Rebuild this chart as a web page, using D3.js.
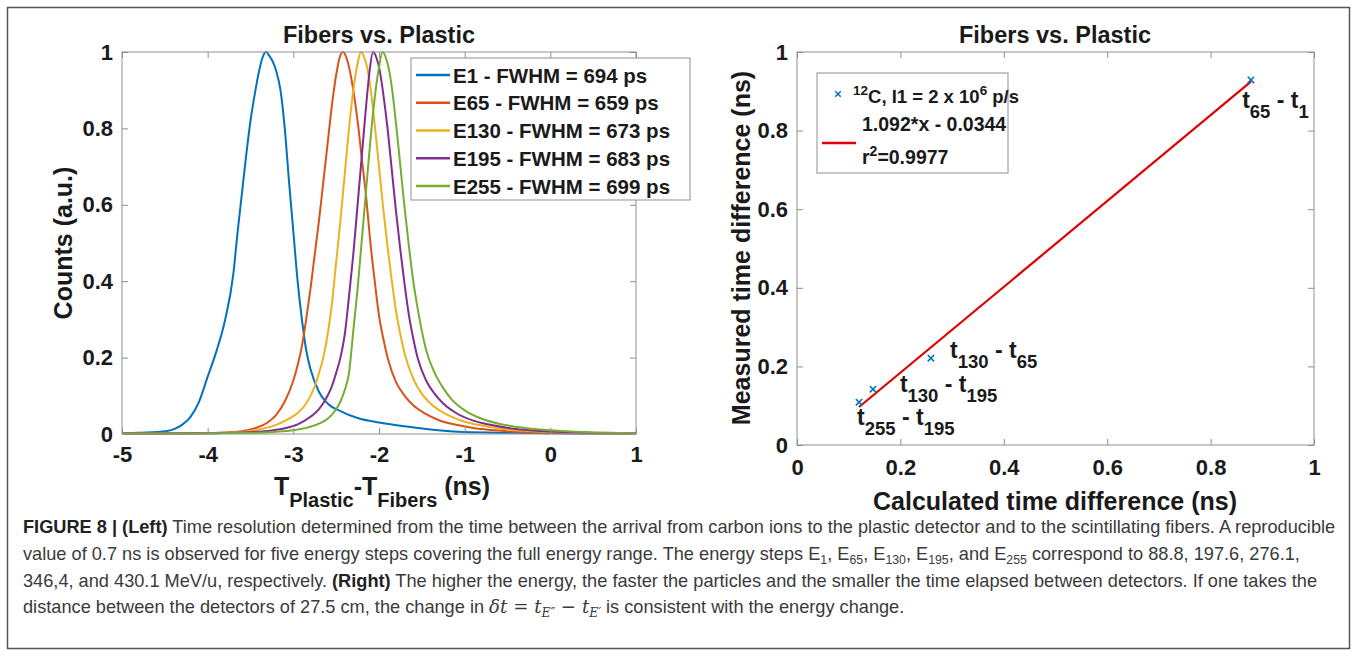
<!DOCTYPE html>
<html><head><meta charset="utf-8">
<script src="https://cdn.jsdelivr.net/npm/d3@7"></script>
<style>
html,body{margin:0;padding:0;background:#fff;}
svg{display:block;}
</style></head>
<body>
<svg id="fig" width="1357" height="656"></svg>
<script>
// ---------------- DATA ----------------
const chartTitle = "Fibers vs. Plastic";
const leftXTicks = [-5, -4, -3, -2, -1, 0, 1];
const leftXTickLabels = ["-5", "-4", "-3", "-2", "-1", "0", "1"];
const leftYTicks = [0, 0.2, 0.4, 0.6, 0.8, 1];
const leftYTickLabels = ["0", "0.2", "0.4", "0.6", "0.8", "1"];
const rightTicks = [0, 0.2, 0.4, 0.6, 0.8, 1];
const rightTickLabels = ["0", "0.2", "0.4", "0.6", "0.8", "1"];

const seriesNames = ["E1 - FWHM = 694 ps", "E65 - FWHM = 659 ps", "E130 - FWHM = 673 ps", "E195 - FWHM = 683 ps", "E255 - FWHM = 699 ps"];

const e1X = [-5, -4.8, -4.6, -4.5, -4.4, -4.3, -4.2, -4.1, -4.0, -3.9, -3.8, -3.7, -3.65, -3.6, -3.55, -3.5, -3.45, -3.4, -3.36, -3.32, -3.28, -3.24, -3.2, -3.15, -3.1, -3.05, -3.0, -2.95, -2.9, -2.85, -2.8, -2.7, -2.6, -2.45, -2.25, -2.0, -1.7, -1.4, -1.0, -0.5, 0, 0.5, 1];
const e1Y = [0.002, 0.003, 0.005, 0.007, 0.012, 0.024, 0.045, 0.085, 0.15, 0.215, 0.295, 0.42, 0.53, 0.63, 0.73, 0.82, 0.89, 0.95, 0.985, 1.0, 0.99, 0.975, 0.95, 0.90, 0.80, 0.66, 0.53, 0.40, 0.30, 0.22, 0.17, 0.11, 0.08, 0.06, 0.042, 0.03, 0.02, 0.012, 0.005, 0.003, 0.002, 0.001, 0.001];

const e65X = [-5, -4.5, -4.0, -3.8, -3.6, -3.45, -3.3, -3.2, -3.1, -3.0, -2.95, -2.9, -2.85, -2.8, -2.75, -2.7, -2.65, -2.6, -2.55, -2.5, -2.46, -2.42, -2.38, -2.34, -2.3, -2.25, -2.2, -2.15, -2.1, -2.05, -2.0, -1.95, -1.9, -1.8, -1.7, -1.6, -1.45, -1.3, -1.1, -0.9, -0.6, -0.3, 0, 0.5, 1];
const e65Y = [0.001, 0.001, 0.002, 0.004, 0.007, 0.015, 0.03, 0.05, 0.085, 0.14, 0.18, 0.23, 0.30, 0.38, 0.47, 0.56, 0.66, 0.76, 0.86, 0.94, 0.985, 1.0, 0.985, 0.95, 0.90, 0.82, 0.72, 0.62, 0.50, 0.40, 0.31, 0.25, 0.20, 0.135, 0.10, 0.075, 0.052, 0.036, 0.024, 0.016, 0.009, 0.005, 0.003, 0.002, 0.001];

const e130X = [-5, -4.5, -4.0, -3.6, -3.4, -3.2, -3.05, -2.95, -2.85, -2.75, -2.7, -2.65, -2.6, -2.55, -2.5, -2.45, -2.4, -2.35, -2.3, -2.25, -2.21, -2.17, -2.13, -2.09, -2.05, -2.0, -1.95, -1.9, -1.85, -1.8, -1.75, -1.7, -1.6, -1.5, -1.4, -1.2, -1.0, -0.8, -0.5, -0.2, 0.2, 0.6, 1];
const e130Y = [0.001, 0.001, 0.002, 0.005, 0.012, 0.024, 0.04, 0.055, 0.08, 0.125, 0.16, 0.2, 0.26, 0.34, 0.45, 0.56, 0.68, 0.80, 0.90, 0.97, 1.0, 0.985, 0.95, 0.89, 0.81, 0.70, 0.59, 0.49, 0.40, 0.32, 0.26, 0.21, 0.145, 0.105, 0.08, 0.05, 0.032, 0.022, 0.012, 0.007, 0.004, 0.002, 0.001];

const e195X = [-5, -4.5, -4.0, -3.6, -3.3, -3.1, -2.95, -2.8, -2.7, -2.6, -2.55, -2.5, -2.45, -2.4, -2.35, -2.3, -2.25, -2.2, -2.15, -2.11, -2.07, -2.03, -1.99, -1.95, -1.9, -1.85, -1.8, -1.75, -1.7, -1.65, -1.6, -1.55, -1.45, -1.35, -1.25, -1.1, -0.9, -0.7, -0.4, -0.1, 0.3, 0.7, 1];
const e195Y = [0.001, 0.001, 0.002, 0.004, 0.008, 0.015, 0.025, 0.045, 0.065, 0.1, 0.125, 0.16, 0.2, 0.26, 0.36, 0.47, 0.60, 0.73, 0.86, 0.95, 1.0, 0.985, 0.95, 0.89, 0.80, 0.69, 0.58, 0.48, 0.39, 0.31, 0.25, 0.2, 0.14, 0.105, 0.08, 0.055, 0.035, 0.024, 0.013, 0.008, 0.004, 0.002, 0.001];

const e255X = [-5, -4.5, -4.0, -3.5, -3.2, -3.0, -2.85, -2.7, -2.6, -2.5, -2.45, -2.4, -2.35, -2.3, -2.25, -2.2, -2.15, -2.1, -2.05, -2.0, -1.96, -1.92, -1.88, -1.84, -1.8, -1.75, -1.7, -1.65, -1.6, -1.55, -1.5, -1.45, -1.35, -1.25, -1.15, -1.0, -0.8, -0.6, -0.3, 0, 0.4, 0.7, 1];
const e255Y = [0.001, 0.001, 0.002, 0.003, 0.006, 0.01, 0.016, 0.027, 0.04, 0.065, 0.085, 0.115, 0.16, 0.27, 0.38, 0.51, 0.64, 0.77, 0.88, 0.96, 1.0, 0.985, 0.95, 0.89, 0.81, 0.70, 0.59, 0.49, 0.40, 0.33, 0.27, 0.22, 0.16, 0.12, 0.09, 0.062, 0.04, 0.027, 0.016, 0.01, 0.005, 0.003, 0.002];

// right panel
const calcDiff = [0.120, 0.147, 0.259, 0.878];
const measDiff = [0.109, 0.142, 0.221, 0.929];
const fitSlope = 1.092, fitIntercept = -0.0344;
const pointLabelMain = [["t", "255", " - t", "195"], ["t", "130", " - t", "195"], ["t", "130", " - t", "65"], ["t", "65", " - t", "1"]];
const pointLabelX = [0.116, 0.199, 0.296, 0.861];
const pointLabelY = [0.052, 0.134, 0.222, 0.858];
const rightLegend1 = ["12", "C, I1 = 2 x 10", "6", " p/s"];
const rightLegend2 = "1.092*x - 0.0344";
const rightLegend3 = ["r", "2", "=0.9977"];

const leftXLabel = ["T", "Plastic", "-T", "Fibers", " (ns)"];
const leftYLabel = "Counts (a.u.)";
const rightXLabel = "Calculated time difference (ns)";
const rightYLabel = "Measured time difference (ns)";

// ---------------- STYLE ----------------
const colors = ["#0072BD", "#D95319", "#EDB120", "#7E2F8E", "#77AC30"];
const FONT = "'Liberation Sans', Arial, Helvetica, sans-serif";
const axisColor = "#8f8f8f";
const textColor = "#1a1a1a";

const svg = d3.select("#fig");
svg.append("rect").attr("width", 1357).attr("height", 656).attr("fill", "#fff");
svg.append("rect").attr("x", 7.5).attr("y", 7.5).attr("width", 1342).attr("height", 641)
  .attr("fill", "none").attr("stroke", "#555").attr("stroke-width", 1.5);

function rich(g, x, y, segs, size) {
  const t = g.append("text").attr("x", x).attr("y", y).attr("font-size", size);
  let shift = 0;
  segs.forEach(s => {
    const fs = s.fs || size;
    const target = s.sub ? (s.shift != null ? s.shift : size * 0.42) : s.sup ? (s.shift != null ? s.shift : -size * 0.42) : 0;
    const ts = t.append("tspan").text(s.t).attr("dy", target - shift).attr("font-size", fs);
    shift = target;
    if (s.bold) ts.attr("font-weight", "bold");
    if (s.italic) ts.attr("font-style", "italic");
    if (s.family) ts.attr("font-family", s.family);
    if (s.fill) ts.attr("fill", s.fill);
  });
  return t;
}

function makeAxes(g, x, y, xt, xtl, yt, ytl, padX) {
  const [x0, x1] = x.range(), [y0, y1] = y.range();
  const bottom = g.append("g").attr("transform", `translate(0,${y0})`)
    .call(d3.axisBottom(x).tickValues(xt).tickSizeInner(-6).tickSizeOuter(0).tickPadding(padX)
      .tickFormat((d, i) => xtl[i]));
  const top = g.append("g").attr("transform", `translate(0,${y1})`)
    .call(d3.axisTop(x).tickValues(xt).tickSizeInner(-6).tickSizeOuter(0).tickFormat(""));
  const left = g.append("g").attr("transform", `translate(${x0},0)`)
    .call(d3.axisLeft(y).tickValues(yt).tickSizeInner(-6).tickSizeOuter(0).tickPadding(9)
      .tickFormat((d, i) => ytl[i]));
  const right = g.append("g").attr("transform", `translate(${x1},0)`)
    .call(d3.axisRight(y).tickValues(yt).tickSizeInner(-6).tickSizeOuter(0).tickFormat(""));
  [bottom, top, left, right].forEach(a => {
    a.select(".domain").remove();
    a.selectAll("line").attr("stroke", axisColor);
    a.selectAll("text").attr("font-family", FONT).attr("font-weight", "bold")
      .attr("font-size", 22).attr("fill", textColor);
  });
  g.append("rect").attr("x", x0).attr("y", y1).attr("width", x1 - x0).attr("height", y0 - y1)
    .attr("fill", "none").attr("stroke", axisColor).attr("stroke-width", 1);
}

// ---------------- LEFT PANEL ----------------
const xL = d3.scaleLinear().domain([-5, 1]).range([122, 636]);
const yL = d3.scaleLinear().domain([0, 1]).range([434, 52]);
const gL = svg.append("g").attr("font-family", FONT);

const seriesX = [e1X, e65X, e130X, e195X, e255X];
const seriesY = [e1Y, e65Y, e130Y, e195Y, e255Y];
svg.append("clipPath").attr("id", "clipL").append("rect")
  .attr("x", 122).attr("y", 50).attr("width", 514).attr("height", 386);
const lineL = d3.line().x(d => xL(d[0])).y(d => yL(d[1])).curve(d3.curveMonotoneX);
const curves = gL.append("g").attr("clip-path", "url(#clipL)");
seriesX.forEach((xs, i) => {
  const pts = xs.map((v, j) => [v, seriesY[i][j]]);
  curves.append("path").attr("d", lineL(pts)).attr("fill", "none")
    .attr("stroke", colors[i]).attr("stroke-width", 2).attr("stroke-linejoin", "round");
});
makeAxes(gL, xL, yL, leftXTicks, leftXTickLabels, leftYTicks, leftYTickLabels, 12);

gL.append("text").attr("x", 379).attr("y", 43).attr("text-anchor", "middle")
  .attr("font-size", 23.5).attr("font-weight", "bold").attr("fill", textColor).text(chartTitle);
gL.append("text").attr("transform", "translate(72,243) rotate(-90)").attr("text-anchor", "middle")
  .attr("font-size", 25).attr("font-weight", "bold").attr("fill", textColor).text(leftYLabel);
rich(gL, 382, 495, [
  {t: leftXLabel[0]}, {t: leftXLabel[1], sub: true, fs: 20, shift: 12},
  {t: leftXLabel[2]}, {t: leftXLabel[3], sub: true, fs: 20, shift: 12}, {t: leftXLabel[4]}
], 25).attr("text-anchor", "middle").attr("font-weight", "bold").attr("fill", textColor);

// legend
const legL = gL.append("g");
legL.append("rect").attr("x", 411).attr("y", 58).attr("width", 279).attr("height", 142)
  .attr("fill", "#fff").attr("stroke", axisColor).attr("stroke-width", 1);
seriesNames.forEach((n, i) => {
  const cy = 75 + i * 27.75;
  legL.append("line").attr("x1", 416).attr("x2", 450).attr("y1", cy).attr("y2", cy)
    .attr("stroke", colors[i]).attr("stroke-width", 2.5);
  legL.append("text").attr("x", 453).attr("y", cy + 7.5).attr("font-size", 20.5)
    .attr("font-weight", "bold").attr("fill", textColor).text(n);
});

// ---------------- RIGHT PANEL ----------------
const xR = d3.scaleLinear().domain([0, 1]).range([797, 1314]);
const yR = d3.scaleLinear().domain([0, 1]).range([445, 52]);
const gR = svg.append("g").attr("font-family", FONT);
makeAxes(gR, xR, yR, rightTicks, rightTickLabels, rightTicks, rightTickLabels, 14);

const fitX = [d3.min(calcDiff), d3.max(calcDiff)];
gR.append("line").attr("x1", xR(fitX[0])).attr("y1", yR(fitSlope * fitX[0] + fitIntercept))
  .attr("x2", xR(fitX[1])).attr("y2", yR(fitSlope * fitX[1] + fitIntercept))
  .attr("stroke", "#e00000").attr("stroke-width", 2.2);

const mk = 3.2;
calcDiff.forEach((cx, i) => {
  const px = xR(cx), py = yR(measDiff[i]);
  gR.append("path").attr("d", `M${px - mk},${py - mk}L${px + mk},${py + mk}M${px - mk},${py + mk}L${px + mk},${py - mk}`)
    .attr("stroke", colors[0]).attr("stroke-width", 1.6).attr("fill", "none");
});

pointLabelMain.forEach((p, i) => {
  rich(gR, xR(pointLabelX[i]), yR(pointLabelY[i]), [
    {t: p[0]}, {t: p[1], sub: true, fs: 18.5, shift: 10}, {t: p[2]}, {t: p[3], sub: true, fs: 18.5, shift: 10}
  ], 23).attr("font-weight", "bold").attr("fill", textColor);
});

gR.append("text").attr("x", 1055).attr("y", 43).attr("text-anchor", "middle")
  .attr("font-size", 23.5).attr("font-weight", "bold").attr("fill", textColor).text(chartTitle);
gR.append("text").attr("transform", "translate(750,248) rotate(-90)").attr("text-anchor", "middle")
  .attr("font-size", 25).attr("font-weight", "bold").attr("fill", textColor).text(rightYLabel);
gR.append("text").attr("x", 1055).attr("y", 510).attr("text-anchor", "middle")
  .attr("font-size", 25).attr("font-weight", "bold").attr("fill", textColor).text(rightXLabel);

const legR = gR.append("g");
legR.append("rect").attr("x", 817).attr("y", 73).attr("width", 191).attr("height", 100)
  .attr("fill", "#fff").attr("stroke", axisColor).attr("stroke-width", 1);
{
  const px = 838, py = 94, m = 2.8;
  legR.append("path").attr("d", `M${px - m},${py - m}L${px + m},${py + m}M${px - m},${py + m}L${px + m},${py - m}`)
    .attr("stroke", colors[0]).attr("stroke-width", 1.5);
}
rich(legR, 853, 103, [
  {t: rightLegend1[0], sup: true, fs: 13.5, shift: -8}, {t: rightLegend1[1]},
  {t: rightLegend1[2], sup: true, fs: 13.5, shift: -8}, {t: rightLegend1[3]}
], 18.5).attr("font-weight", "bold").attr("fill", textColor);
legR.append("text").attr("x", 862).attr("y", 131).attr("font-size", 19.5).attr("font-weight", "bold")
  .attr("fill", textColor).text(rightLegend2);
legR.append("line").attr("x1", 822).attr("x2", 856).attr("y1", 143).attr("y2", 143)
  .attr("stroke", "#e00000").attr("stroke-width", 2.5);
rich(legR, 862, 164, [
  {t: rightLegend3[0]}, {t: rightLegend3[1], sup: true, fs: 14, shift: -8}, {t: rightLegend3[2]}
], 19.5).attr("font-weight", "bold").attr("fill", textColor);

// ---------------- CAPTION ----------------
const SERIF = "'DejaVu Serif', 'Liberation Serif', serif";
const captionLines = [
  [{t: "FIGURE 8 | (Left)", bold: true, fill: "#222"}, {t: " Time resolution determined from the time between the arrival from carbon ions to the plastic detector and to the scintillating fibers. A reproducible"}],
  [{t: "value of 0.7 ns is observed for five energy steps covering the full energy range. The energy steps E"}, {t: "1", sub: true},
   {t: ", E"}, {t: "65", sub: true}, {t: ", E"}, {t: "130", sub: true}, {t: ", E"}, {t: "195", sub: true},
   {t: ", and E"}, {t: "255", sub: true}, {t: " correspond to 88.8, 197.6, 276.1,"}],
  [{t: "346,4, and 430.1 MeV/u, respectively. "}, {t: "(Right)", bold: true, fill: "#222"},
   {t: " The higher the energy, the faster the particles and the smaller the time elapsed between detectors. If one takes the"}],
  [{t: "distance between the detectors of 27.5 cm, the change in "}, {t: "δt", italic: true, family: SERIF},
   {t: " = ", family: SERIF}, {t: "t", italic: true, family: SERIF}, {t: "E″", sub: true, italic: true, family: SERIF},
   {t: " − ", family: SERIF}, {t: "t", italic: true, family: SERIF}, {t: "E′", sub: true, italic: true, family: SERIF},
   {t: " is consistent with the energy change."}]
];
const capY = [533, 560, 587, 613];
const capG = svg.append("g").attr("font-family", FONT).attr("fill", "#3a3a3a");
let capSize = 17;
const capTexts = captionLines.map((segs, i) => {
  const s2 = segs.map(s => s.sub ? Object.assign({}, s, {fs: 11.5, shift: 3.5}) : s);
  return rich(capG, 23, capY[i], s2, capSize);
});
// fit first line width to the reference (~1313 px)
const w0 = capTexts[0].node().getComputedTextLength();
const k = 1313 / w0;
capTexts.forEach(t => {
  t.attr("font-size", capSize * k);
  t.selectAll("tspan").each(function () {
    const fs = +d3.select(this).attr("font-size");
    d3.select(this).attr("font-size", fs * k);
  });
});
</script>
</body></html>
